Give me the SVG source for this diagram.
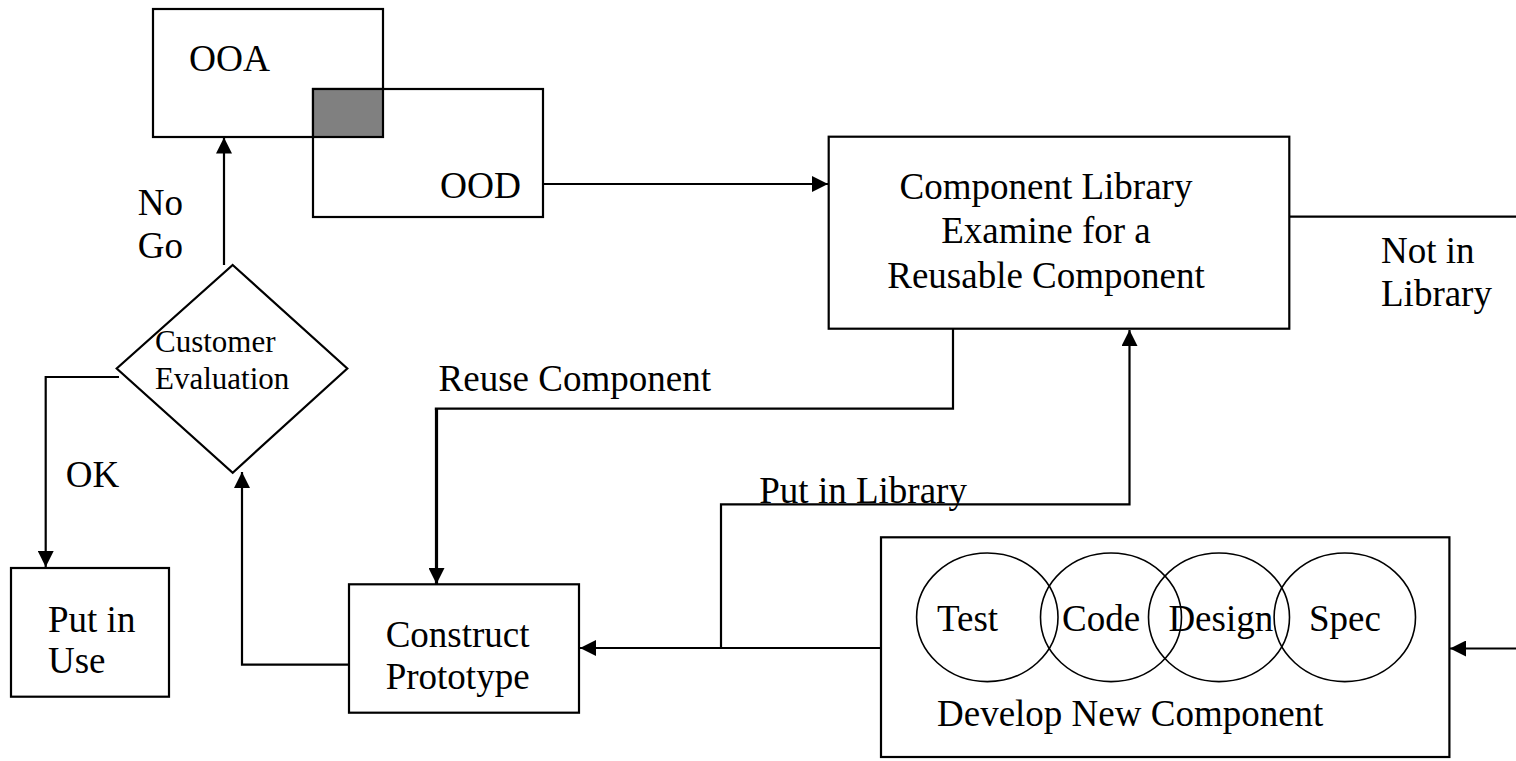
<svg xmlns="http://www.w3.org/2000/svg" width="1516" height="761" viewBox="0 0 1516 761">
  <style>
    .box { fill: #ffffff; stroke: #000000; stroke-width: 2.2; }
    .shade { fill: #808080; stroke: #000000; stroke-width: 2.2; }
    .ring { fill: none; stroke: #000000; stroke-width: 1.6; }
    .wire { fill: none; stroke: #000000; stroke-width: 2.2; }
    .heavy { stroke-width: 3.2; }
    .arrow { marker-end: url(#head); }
    text { font-family: "Liberation Serif", "Times New Roman", serif; font-size: 37px; fill: #000000; }
    .small { font-size: 31px; }
    .mid { text-anchor: middle; }
  </style>
  <defs>
    <marker id="head" markerUnits="userSpaceOnUse" markerWidth="16" markerHeight="16" refX="16" refY="8" orient="auto">
      <path d="M0,0 L16,8 L0,16 Z" fill="#000000"/>
    </marker>
  </defs>

  <rect width="1516" height="761" fill="#ffffff"/>

  <!-- connectors -->
  <g id="connectors">
    <path class="wire arrow" d="M543,184 H828"/>
    <path class="wire" d="M1289,216.7 H1516"/>
    <path class="wire arrow" d="M1516,648.5 H1450"/>
    <path class="wire arrow" d="M881,648 H580"/>
    <path class="wire arrow" d="M721,648 V504.3 H1129.5 V330"/>
    <path class="wire" d="M953,329 V408.7 H434.8"/>
    <path class="wire heavy arrow" d="M436.5,408.7 V584"/>
    <path class="wire arrow" d="M349,664.7 H242 V472"/>
    <path class="wire arrow" d="M119,377 H45.7 V567"/>
    <path class="wire arrow" d="M224,265 V137.5"/>
  </g>

  <!-- OOA / OOD overlapping phases -->
  <g id="ooa">
    <rect class="box" x="153" y="9" width="230" height="128"/>
    <text x="189" y="71" textLength="81" lengthAdjust="spacingAndGlyphs">OOA</text>
  </g>
  <g id="ood">
    <rect class="box" x="313" y="89" width="230" height="128"/>
    <rect class="shade" x="313" y="89" width="70" height="48"/>
    <text x="440" y="198" textLength="81" lengthAdjust="spacingAndGlyphs">OOD</text>
  </g>

  <g id="component-library">
    <rect class="box" x="828.7" y="136.7" width="460.6" height="192"/>
    <text class="mid" x="1046" y="199.3">Component Library</text>
    <text class="mid" x="1046" y="243.3">Examine for a</text>
    <text class="mid" x="1046" y="288.3">Reusable Component</text>
  </g>

  <g id="customer-evaluation">
    <polygon class="box" points="232.7,265 347.3,368.5 232.7,472.7 116.7,368.5"/>
    <text class="small" x="155" y="351.7">Customer</text>
    <text class="small" x="155" y="389.3">Evaluation</text>
  </g>

  <g id="put-in-use">
    <rect class="box" x="11" y="568" width="158" height="128.7"/>
    <text x="48" y="631.7">Put in</text>
    <text x="48" y="673.3">Use</text>
  </g>

  <g id="construct-prototype">
    <rect class="box" x="349" y="584.3" width="230" height="128.4"/>
    <text x="385.7" y="647.3">Construct</text>
    <text x="385.7" y="689.3">Prototype</text>
  </g>

  <g id="develop-new-component">
    <rect class="box" x="881" y="537.3" width="568.4" height="219.7"/>
    <ellipse class="ring" cx="987.3" cy="617.3" rx="70.7" ry="64.3"/>
    <ellipse class="ring" cx="1111" cy="617.3" rx="70.5" ry="64.3"/>
    <ellipse class="ring" cx="1219" cy="617.3" rx="70.5" ry="64.3"/>
    <ellipse class="ring" cx="1344.8" cy="617.3" rx="70.7" ry="64.3"/>
    <text x="937" y="630.5">Test</text>
    <text x="1062" y="630.5">Code</text>
    <text x="1168.4" y="630.5">Design</text>
    <text x="1309" y="630.5">Spec</text>
    <text x="937" y="725.7">Develop New Component</text>
  </g>

  <!-- connector labels -->
  <g id="labels">
    <text x="137.7" y="215">No</text>
    <text x="137.7" y="258.3">Go</text>
    <text x="65.7" y="486.7">OK</text>
    <text x="438.6" y="390.7">Reuse Component</text>
    <text x="759.3" y="503.3">Put in Library</text>
    <text x="1381" y="262.7">Not in</text>
    <text x="1381" y="306">Library</text>
  </g>
</svg>
